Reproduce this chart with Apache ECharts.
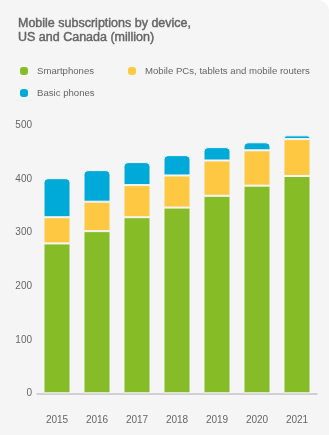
<!DOCTYPE html>
<html>
<head>
<meta charset="utf-8">
<script src="https://cdn.jsdelivr.net/npm/echarts@6/dist/echarts.min.js"></script>
<style>
html,body{margin:0;padding:0;background:#ffffff;}
#c{width:329px;height:435px;background:#f5f5f5;border-top-right-radius:12px;overflow:hidden;}
</style>
</head>
<body>
<div id="c"></div>
<script>
var years = ['2015','2016','2017','2018','2019','2020','2021'];
var smartphones = [280, 303, 329, 347, 369, 388, 406];
var mobilePCs = [49, 55, 60, 60, 66, 66, 69];
var basicPhones = [73, 59, 43, 38, 25, 15, 7];
var yTicks = [0, 100, 200, 300, 400, 500];
var seriesNames = ['Smartphones', 'Mobile PCs, tablets and mobile routers', 'Basic phones'];
var colors = ['#86bc25', '#ffc843', '#00aad8'];

var font = "'Liberation Sans', Arial, Helvetica, sans-serif";
var chart = echarts.init(document.getElementById('c'));
var bg = '#f5f5f5';
var icon = 'path://M4,0 H6 A4,4 0 0 1 10,4 V6 A4,4 0 0 1 6,10 H4 A4,4 0 0 1 0,6 V4 A4,4 0 0 1 4,0 Z';

function legend(name, left, top) {
  return {
    data: [name], left: left, top: top, orient: 'horizontal',
    icon: icon, itemWidth: 10, itemHeight: 10, padding: 0,
    selectedMode: false,
    textStyle: {color: '#666', fontSize: 9.6, fontFamily: font, padding: [0, 0, 0, 3]}
  };
}

chart.setOption({
  backgroundColor: bg,
  animation: false,
  title: {
    text: 'Mobile subscriptions by device,\nUS and Canada (million)',
    left: 18, top: 17, padding: 0,
    textStyle: {color: '#666666', fontSize: 12.5, fontWeight: 'normal', fontFamily: font, lineHeight: 13.5,
                textBorderColor: '#666666', textBorderWidth: 0.45}
  },
  legend: [
    legend(seriesNames[0], 18, 65),
    legend(seriesNames[1], 126, 65),
    legend(seriesNames[2], 18, 87)
  ],
  grid: {left: 37, right: 12, top: 125.7, bottom: 41.7, containLabel: false},
  xAxis: {
    type: 'category', data: years,
    axisLine: {lineStyle: {color: '#c4c4c4', width: 1.5}},
    axisTick: {show: false},
    axisLabel: {color: '#666', fontSize: 10, fontFamily: font, margin: 22}
  },
  yAxis: {
    type: 'value', min: yTicks[0], max: yTicks[yTicks.length - 1], interval: 100,
    splitLine: {show: false}, axisLine: {show: false}, axisTick: {show: false},
    axisLabel: {color: '#666', fontSize: 10, fontFamily: font, margin: 5}
  },
  series: [
    {name: seriesNames[0], type: 'bar', stack: 't', data: smartphones, barWidth: 27,
     itemStyle: {color: colors[0], borderColor: bg, borderWidth: 1}},
    {name: seriesNames[1], type: 'bar', stack: 't', data: mobilePCs, barWidth: 27,
     itemStyle: {color: colors[1], borderColor: bg, borderWidth: 1}},
    {name: seriesNames[2], type: 'bar', stack: 't', data: basicPhones, barWidth: 27,
     itemStyle: {color: colors[2], borderColor: bg, borderWidth: 1, borderRadius: [4, 4, 0, 0]}}
  ]
});
</script>
</body>
</html>
